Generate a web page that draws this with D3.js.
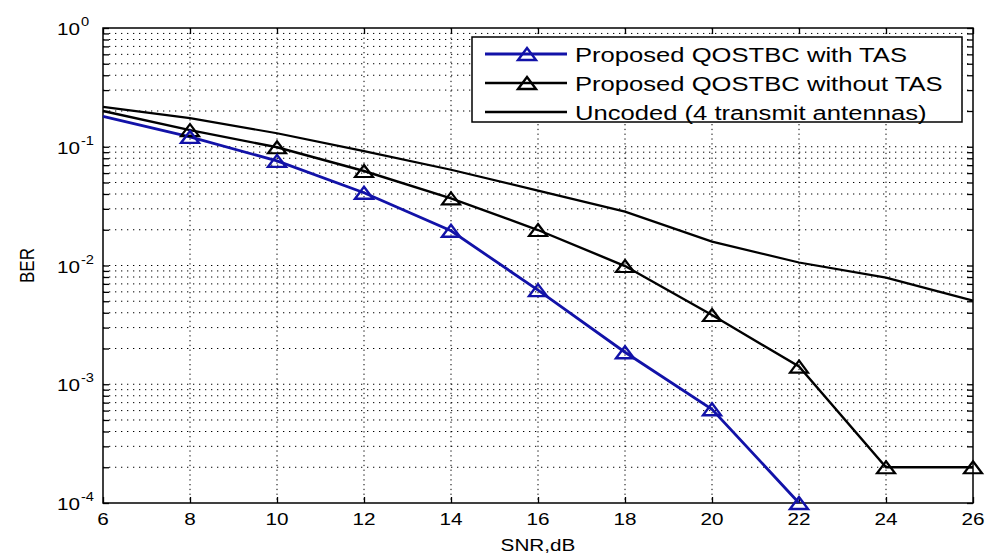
<!DOCTYPE html>
<html>
<head>
<meta charset="utf-8">
<script src="https://cdn.jsdelivr.net/npm/d3@7"></script>
<style>
  html, body { margin: 0; padding: 0; background: #fff; }
  svg { display: block; }
  text { font-family: "Liberation Sans", Arial, Helvetica, sans-serif; fill: #000; }
</style>
</head>
<body>
<svg id="chart" width="987" height="556"></svg>
<script>
// ---- data ----
const snr = [6, 8, 10, 12, 14, 16, 18, 20, 22, 24, 26];
const snrWithTAS = [6, 8, 10, 12, 14, 16, 18, 20, 22];
const berWithTAS = [0.18, 0.121, 0.076, 0.041, 0.0196, 0.0062, 0.00186, 0.000615, 0.0001];
const berWithoutTAS = [0.20, 0.138, 0.099, 0.0625, 0.0368, 0.0199, 0.0099, 0.00383, 0.00141, 0.0002, 0.0002];
const berUncoded = [0.217, 0.174, 0.130, 0.092, 0.064, 0.0427, 0.0284, 0.0159, 0.0106, 0.0079, 0.00506];
const xTicks = [6, 8, 10, 12, 14, 16, 18, 20, 22, 24, 26];
const yExponents = [0, -1, -2, -3, -4];
const legendLabels = ["Proposed QOSTBC with TAS", "Proposed QOSTBC without TAS", "Uncoded (4 transmit antennas)"];
const xLabel = "SNR,dB";
const yLabel = "BER";

// ---- layout ----
const W = 987, H = 556;
const m = { left: 103, right: 14, top: 28, bottom: 53 };
const pw = W - m.left - m.right, ph = H - m.top - m.bottom;
const SX = 1.22; // horizontal stretch of the original rendering
const BLUE = "#1212a8";

const svg = d3.select("#chart");
const x = d3.scaleLinear().domain([6, 26]).range([m.left, m.left + pw]);
const y = d3.scaleLog().domain([1e-4, 1]).range([m.top + ph, m.top]);

function sText(parent, px, py, anchor, size, str) {
  const g = parent.append("g").attr("transform", `translate(${px},${py}) scale(${SX},1)`);
  return g.append("text").attr("text-anchor", anchor).attr("font-size", size).text(str);
}

// ---- grid ----
const grid = svg.append("g");
const minorVals = [];
for (let e = -4; e < 0; e++) for (let k = 1; k <= 9; k++) minorVals.push(k * Math.pow(10, e));
minorVals.push(1);
grid.selectAll("line.h").data(minorVals.filter(v => v > 1e-4 && v < 1)).enter().append("line")
  .attr("x1", m.left).attr("x2", m.left + pw)
  .attr("y1", d => y(d)).attr("y2", d => y(d))
  .attr("stroke", "#000").attr("stroke-width", 1).attr("stroke-dasharray", "1.3,4.7");
grid.selectAll("line.v").data(xTicks.slice(1, -1)).enter().append("line")
  .attr("x1", d => x(d)).attr("x2", d => x(d))
  .attr("y1", m.top).attr("y2", m.top + ph)
  .attr("stroke", "#000").attr("stroke-width", 1).attr("stroke-dasharray", "1.3,3.5");

// ---- axes (ticks inward) ----
const ax = svg.append("g");
ax.append("g").attr("transform", `translate(0,${m.top + ph})`)
  .call(d3.axisBottom(x).tickValues(xTicks).tickSize(-6).tickFormat(""))
  .call(g => g.select(".domain").remove());
ax.append("g").attr("transform", `translate(0,${m.top})`)
  .call(d3.axisTop(x).tickValues(xTicks).tickSize(-6).tickFormat(""))
  .call(g => g.select(".domain").remove());
ax.append("g").attr("transform", `translate(${m.left},0)`)
  .call(d3.axisLeft(y).tickValues(minorVals).tickSize(-6).tickFormat(""))
  .call(g => g.select(".domain").remove());
ax.append("g").attr("transform", `translate(${m.left + pw},0)`)
  .call(d3.axisRight(y).tickValues(minorVals).tickSize(-6).tickFormat(""))
  .call(g => g.select(".domain").remove());
ax.selectAll(".tick line").attr("stroke", "#000").attr("stroke-width", 1.3);
ax.append("rect").attr("x", m.left).attr("y", m.top).attr("width", pw).attr("height", ph)
  .attr("fill", "none").attr("stroke", "#000").attr("stroke-width", 1.5);

// tick labels
xTicks.forEach(t => sText(svg, x(t), m.top + ph + 22, "middle", 17, String(t)));
yExponents.forEach(e => {
  const yy = y(Math.pow(10, e));
  sText(svg, 80, yy + 7, "end", 17, "10");
  sText(svg, 81, yy - 2, "start", 12, e === 0 ? "0" : "-" + Math.abs(e));
});

// axis titles
sText(svg, x(16), 551, "middle", 17, xLabel);
svg.append("g").attr("transform", `translate(34,${m.top + ph / 2}) scale(${SX},1) rotate(-90)`)
  .append("text").attr("text-anchor", "middle").attr("font-size", 17).text(yLabel);

// ---- series ----
const plot = svg.append("g");
const line = d3.line().x(d => x(d[0])).y(d => y(d[1]));
const tri = "M0,-6L9,6L-9,6Z";

const sUn = snr.map((s, i) => [s, berUncoded[i]]);
const sWo = snr.map((s, i) => [s, berWithoutTAS[i]]);
const sW = snrWithTAS.map((s, i) => [s, berWithTAS[i]]);

plot.append("path").datum(sUn).attr("d", line).attr("fill", "none").attr("stroke", "#000").attr("stroke-width", 2.2);
plot.append("path").datum(sWo).attr("d", line).attr("fill", "none").attr("stroke", "#000").attr("stroke-width", 2.4);
plot.append("path").datum(sW).attr("d", line).attr("fill", "none").attr("stroke", BLUE).attr("stroke-width", 2.8);

plot.selectAll("path.mw").data(sWo.filter(d => d[0] > 6)).enter().append("path")
  .attr("d", tri).attr("transform", d => `translate(${x(d[0])},${y(d[1])})`)
  .attr("fill", "none").attr("stroke", "#000").attr("stroke-width", 2.2);
plot.selectAll("path.mb").data(sW.filter(d => d[0] > 6)).enter().append("path")
  .attr("d", tri).attr("transform", d => `translate(${x(d[0])},${y(d[1])})`)
  .attr("fill", "none").attr("stroke", BLUE).attr("stroke-width", 2.4);

// ---- legend ----
const lg = svg.append("g");
lg.append("rect").attr("x", 472).attr("y", 37).attr("width", 490).attr("height", 85)
  .attr("fill", "#fff").attr("stroke", "#000").attr("stroke-width", 1.5);
const rows = [
  { label: legendLabels[0], color: BLUE, marker: true, w: 2.8 },
  { label: legendLabels[1], color: "#000", marker: true, w: 2.4 },
  { label: legendLabels[2], color: "#000", marker: false, w: 2.4 }
];
rows.forEach((r, i) => {
  const cy = 54 + i * 29;
  lg.append("line").attr("x1", 485).attr("x2", 567).attr("y1", cy).attr("y2", cy)
    .attr("stroke", r.color).attr("stroke-width", r.w);
  if (r.marker) lg.append("path").attr("d", tri).attr("transform", `translate(527,${cy})`)
    .attr("fill", "none").attr("stroke", r.color).attr("stroke-width", 2.4);
  sText(lg, 575, cy + 7.5, "start", 21, r.label);
});
</script>
</body>
</html>
